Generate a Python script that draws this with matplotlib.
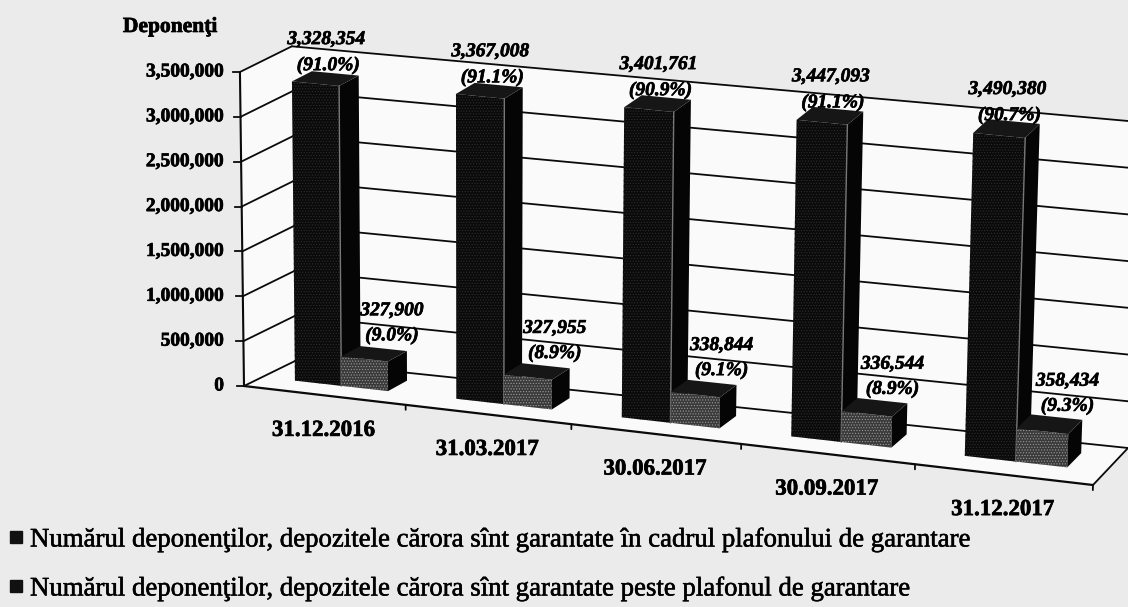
import numpy as np
import matplotlib
matplotlib.use("Agg")
import matplotlib.pyplot as plt
from matplotlib.patches import Polygon
import matplotlib.patheffects as pe

dates = ["31.12.2016", "31.03.2017", "30.06.2017", "30.09.2017", "31.12.2017"]
within = [3328354, 3367008, 3401761, 3447093, 3490380]
above = [327900, 327955, 338844, 336544, 358434]
within_pct = ["91.0%", "91.1%", "90.9%", "91.1%", "90.7%"]
above_pct = ["9.0%", "8.9%", "9.1%", "8.9%", "9.3%"]
y_ticks = [0, 500000, 1000000, 1500000, 2000000, 2500000, 3000000, 3500000]
legend_labels = [
    "Numărul deponenţilor, depozitele cărora sînt garantate în cadrul plafonului de garantare",
    "Numărul deponenţilor, depozitele cărora sînt garantate peste plafonul de garantare",
]
y_title = "Deponenţi"

W, H = 1128, 607
BG = "#ebebeb"
plt.rcParams["font.family"] = ["Liberation Serif", "DejaVu Serif"]
plt.rcParams["hatch.linewidth"] = 0.5
fig = plt.figure(figsize=(W / 100, H / 100), dpi=100, facecolor=BG)
ax = fig.add_axes([0, 0, 1, 1])
ax.set_xlim(0, W)
ax.set_ylim(H, 0)
ax.axis("off")

FL, FR, BR, BL = map(np.array, [(244., 386.), (1093., 485.), (1128., 448.), (295., 361.)])


def P(u, d, v=0):
    s = u / 5
    s = s - 0.06 * s * (1 - s)
    x, y = (1 - d) * ((1 - s) * FL + s * FR) + d * ((1 - s) * BL + s * BR)
    return (x + v / 3.3e6 * (x - 477) * 0.0164,
            y - v / 3.5e6 * (314 + (x - 244) * 12 / 884))


def face(pts, **kw):
    ax.add_patch(Polygon([P(*p) for p in pts], closed=True, **kw))


top = y_ticks[-1]
face([(0, 0, 0), (0, 1, 0), (0, 1, top), (0, 0, top)], fc="#fafafa", ec="none", zorder=1)
face([(0, 1, 0), (5, 1, 0), (5, 1, top), (0, 1, top)], fc="#fafafa", ec="none", zorder=1)
face([(0, 0, 0), (5, 0, 0), (5, 1, 0), (0, 1, 0)], fc="#fafafa", ec="none", zorder=1)


def seg(a, b, lw=1.3, z=2):
    pa, pb = P(*a), P(*b)
    ax.plot([pa[0], pb[0]], [pa[1], pb[1]], color="#0a0a0a", lw=lw, zorder=z,
            solid_capstyle="round")


bold = [pe.withStroke(linewidth=0.5, foreground="black")]

for v in y_ticks:
    seg((0, 0, v), (0, 1, v))
    seg((0, 1, v), (5, 1, v))
    p = P(0, 0, v)
    ax.plot([p[0] - 7, p[0]], [p[1], p[1]], color="#0a0a0a", lw=1.3, zorder=2)
    ax.text(224, p[1], f"{v:,}", ha="right", va="center", fontsize=14, weight="bold",
            zorder=6, path_effects=bold)
seg((0, 0, 0), (0, 0, top), lw=1.5)
seg((0, 0, 0), (5, 0, 0), lw=1.6)
seg((5, 0, 0), (5, 1, 0), lw=1.3)
for i in range(1, 6):
    seg((i, 0, 0), (i, 0, -55000), lw=1.3)

D0, D1 = 0.36, 0.75
U0, BW = 0.205, 0.29


def bar(u0, u1, v, front, hatch_col, z, seam=None):
    face([(u0, D0, 0), (u1, D0, 0), (u1, D0, v), (u0, D0, v)], fc=front, ec=hatch_col,
         lw=0, hatch="......", zorder=z)
    face([(u1, D0, 0), (u1, D1, 0), (u1, D1, v), (u1, D0, v)], fc="#050505", ec="none", zorder=z)
    face([(u0, D0, v), (u1, D0, v), (u1, D1, v), (u0, D1, v)], fc="#161616", ec="none", zorder=z)
    if seam:
        a, b = P(u1, D0, 0), P(u1, D0, v)
        ax.plot([a[0], b[0]], [a[1], b[1]], color=seam, lw=1.0, zorder=z + 0.1)


lab = dict(ha="center", va="center", fontsize=14, weight="bold", style="italic", zorder=7,
           path_effects=bold)
for i in range(5):
    u0 = i + U0
    bar(u0, u0 + BW, within[i], "#0a0a0a", "#2e2e2e", 3 + i * 0.5, seam="#777777")
    bar(u0 + BW, u0 + 2 * BW, above[i], "#3a3a3a", "#9a9a9a", 3.2 + i * 0.5)

    px, py = P(u0 + BW / 2, (D0 + D1) / 2, within[i])
    ax.text(px + 1, py - 39, f"{within[i]:,}", **lab)
    ax.text(px + 3, py - 13, f"({within_pct[i]})", **lab)

    px, py = P(u0 + 1.5 * BW, (D0 + D1) / 2, above[i])
    ax.text(px + 18, py - 43, f"{above[i]:,}", **lab)
    ax.text(px + 18, py - 18, f"({above_pct[i]})", **lab)

    px, py = P(i + 0.5, 0, 0)
    ax.text(px - 1, py + 35, dates[i], ha="center", va="center", fontsize=16.5, weight="bold",
            zorder=6, path_effects=bold)

ax.text(170, 27, y_title, ha="center", va="center", fontsize=15.5, weight="bold", path_effects=bold)

for label, y in zip(legend_labels, [540, 589]):
    ax.plot([16], [y - 3], marker="s", ms=8.5, color="#111111", zorder=6)
    ax.text(30, y, label, ha="left", va="center", fontsize=19.3, weight="normal", zorder=6,
            path_effects=[pe.withStroke(linewidth=0.4, foreground="black")])

fig.savefig("out.png", dpi=100, facecolor=BG)
